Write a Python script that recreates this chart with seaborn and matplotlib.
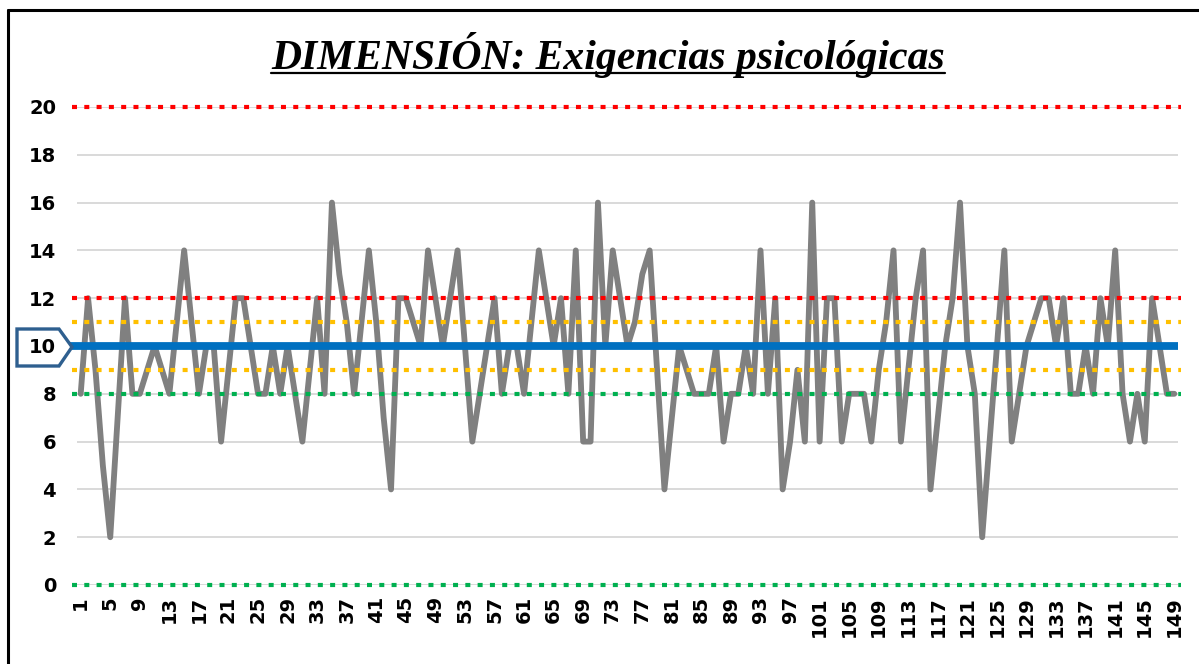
import numpy as np
import pandas as pd
import matplotlib
matplotlib.use("Agg")
import matplotlib.pyplot as plt
import seaborn as sns
from matplotlib.patches import Polygon
from matplotlib.lines import Line2D

# ---------------- data ----------------
values = [8, 12, 9, 5, 2, 7, 12, 8, 8, 9,
          10, 9, 8, 11, 14, 11, 8, 10, 10, 6,
          9, 12, 12, 10, 8, 8, 10, 8, 10, 8,
          6, 9, 12, 8, 16, 13, 11, 8, 11, 14,
          11, 7, 4, 12, 12, 11, 10, 14, 12, 10,
          12, 14, 10, 6, 8, 10, 12, 8, 10, 10,
          8, 11, 14, 12, 10, 12, 8, 14, 6, 6,
          16, 10, 14, 12, 10, 11, 13, 14, 9, 4,
          7, 10, 9, 8, 8, 8, 10, 6, 8, 8,
          10, 8, 14, 8, 12, 4, 6, 9, 6, 16,
          6, 12, 12, 6, 8, 8, 8, 6, 9, 11,
          14, 6, 9, 12, 14, 4, 7, 10, 12, 16,
          10, 8, 2, 6, 10, 14, 6, 8, 10, 11,
          12, 12, 10, 12, 8, 8, 10, 8, 12, 10,
          14, 8, 6, 8, 6, 12, 10, 8, 8]
categories = list(range(1, len(values) + 1))
x_tick_values = categories[::4]
x_tick_labels = [str(c) for c in x_tick_values]
y_ticks = list(range(0, 21, 2))
y_tick_labels = [str(v) for v in y_ticks]
title = "DIMENSIÓN: Exigencias psicológicas"

ref_levels = [20, 12, 11, 9, 8, 0]
ref_colors = ["#FF0000", "#FF0000", "#FFC000", "#FFC000", "#00B050", "#00B050"]
mean_level = 10
mean_color = "#0070C0"
series_color = "#808080"

# ---------------- figure ----------------
sns.set_theme(style="white")
plt.rcParams['font.family'] = ['DejaVu Sans']

W, H = 1199, 664
fig = plt.figure(figsize=(W / 100, H / 100), dpi=100)
fig.patch.set_facecolor("white")

x0, x1, y_top, y_bot = 77, 1178, 107, 585
ax = fig.add_axes([x0 / W, 1 - y_bot / H, (x1 - x0) / W, (y_bot - y_top) / H])

df = pd.DataFrame({"n": categories, "score": values})

ax.set_xlim(0.5, len(values) + 0.5)
ax.set_ylim(0, 20)
ax.set_yticks(y_ticks)
ax.set_yticklabels(y_tick_labels)
ax.set_xticks(x_tick_values)
ax.set_xticklabels(x_tick_labels, rotation=90)
ax.yaxis.grid(True, color="#D9D9D9", lw=1.4)
ax.xaxis.grid(False)
ax.set_axisbelow(True)
for s in ax.spines.values():
    s.set_visible(False)
ax.tick_params(axis="both", length=0)
ax.tick_params(axis="y", pad=15, labelsize=14)
ax.tick_params(axis="x", pad=8, labelsize=14)
for lab in ax.get_xticklabels() + ax.get_yticklabels():
    lab.set_fontweight("bold")
    lab.set_color("black")

sns.lineplot(data=df, x="n", y="score", color=series_color, lw=4.2, ax=ax,
             zorder=2, legend=False)
ax.set_xlabel("")
ax.set_ylabel("")

# dotted reference lines (square dots)
ext_l = (72 - x0) / (x1 - x0)
ext_r = (1181 - x0) / (x1 - x0)
for lev, col in zip(ref_levels, ref_colors):
    ax.axhline(lev, xmin=ext_l, xmax=ext_r, color=col, lw=3.0,
               dashes=(1.2, 1.75), dash_capstyle="butt", zorder=3,
               clip_on=False)

ax.axhline(mean_level, xmin=(70 - x0) / (x1 - x0), xmax=1.0, color=mean_color,
           lw=5.6, zorder=4, clip_on=False, solid_capstyle="butt")

# pentagon callout around the "10" label
def px(x, y):
    return (x / W, 1 - y / H)
poly = Polygon([px(17, 329), px(59, 329), px(72, 347), px(59, 366), px(17, 366)],
               closed=True, transform=fig.transFigure, facecolor="none",
               edgecolor="#2E5F8F", lw=2.4, zorder=5)
fig.patches.append(poly)

# outer frame
fig.lines.append(Line2D([8 / W, 8 / W], [1 - 10 / H, 0], transform=fig.transFigure,
                        color="black", lw=2.2))
fig.lines.append(Line2D([8 / W, 1.0], [1 - 10 / H, 1 - 10 / H], transform=fig.transFigure,
                        color="black", lw=2.2))

# title with underline
t = fig.text(608 / W, 1 - 55 / H, title, ha="center", va="center",
             fontsize=27, fontweight="bold", fontstyle="italic",
             family=["Liberation Serif", "DejaVu Serif"], color="black")
fig.canvas.draw()
bb = t.get_window_extent()
target_w = 673.0
t.set_fontsize(27 * target_w / bb.width)
fig.canvas.draw()
bb = t.get_window_extent()
uy = 1 - 73 / H
fig.lines.append(Line2D([bb.x0 / W, bb.x1 / W], [uy, uy], transform=fig.transFigure,
                        color="black", lw=1.6))

fig.savefig("out.png", dpi=100, facecolor="white")
